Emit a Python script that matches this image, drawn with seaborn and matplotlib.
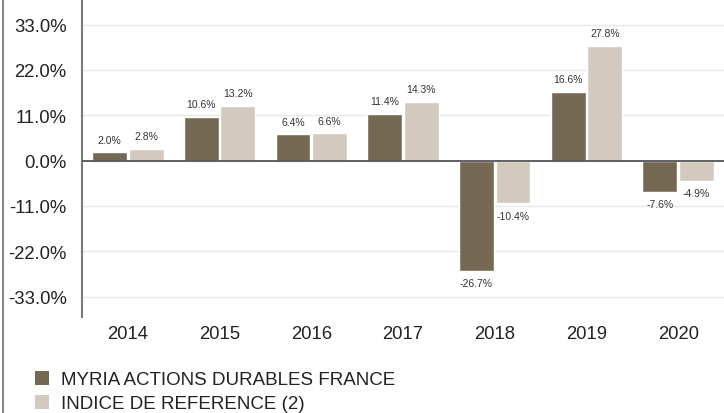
import matplotlib
matplotlib.use("Agg")
import matplotlib.pyplot as plt
import seaborn as sns
import pandas as pd
from matplotlib.patches import Patch
from matplotlib.lines import Line2D

years = ["2014", "2015", "2016", "2017", "2018", "2019", "2020"]
fund_values = [2.0, 10.6, 6.4, 11.4, -26.7, 16.6, -7.6]
index_values = [2.8, 13.2, 6.6, 14.3, -10.4, 27.8, -4.9]
series_names = ["MYRIA ACTIONS DURABLES FRANCE", "INDICE DE REFERENCE (2)"]
y_ticks = [-33, -22, -11, 0, 11, 22, 33]

dark = "#766953"
light = "#d4c9bf"

df = pd.DataFrame({
    "year": years * 2,
    "value": fund_values + index_values,
    "series": [series_names[0]] * len(years) + [series_names[1]] * len(years),
})

sns.set_theme(style="white")
plt.rcParams["font.family"] = ["Liberation Sans", "DejaVu Sans"]

W, H = 724, 414
fig = plt.figure(figsize=(W / 100, H / 100), dpi=100)
ax = fig.add_axes([82 / W, (H - 317.7) / H, (724 - 82) / W, 317.7 / H])

sns.barplot(data=df, x="year", y="value", hue="series", palette=[dark, light],
            width=0.8, gap=0.05, ax=ax, legend=False, errorbar=None, saturation=1)

ax.set_ylim(-37.9, 39.2)
ax.set_xlim(-0.5, 6.5)
ax.set_yticks(y_ticks)
ax.set_yticklabels([f"{v:.1f}%" for v in y_ticks])
ax.set_xlabel("")
ax.set_ylabel("")
ax.grid(axis="y", color="#e8e8e8", lw=1)
ax.set_axisbelow(True)
ax.axhline(0, color="#555555", lw=1.3, zorder=3)
for s in ["top", "right", "bottom"]:
    ax.spines[s].set_visible(False)
ax.spines["left"].set_color("#7a7a7a")
ax.spines["left"].set_linewidth(1.5)
ax.tick_params(axis="y", length=0, pad=11, labelsize=13.3, labelcolor="#222222")
ax.tick_params(axis="x", length=0, pad=6, labelsize=13.3, labelcolor="#222222")

for cont in ax.containers:
    ax.bar_label(cont, fmt="%.1f%%", padding=5.5, fontsize=7.5, color="#333333")

fig.add_artist(Line2D([3 / W, 3 / W], [0, 1], color="#8a8a8a", lw=1.5))

handles = [Patch(facecolor=dark, edgecolor="none"), Patch(facecolor=light, edgecolor="none")]
fig.legend(handles, series_names, loc="upper left", bbox_to_anchor=(35 / W, (H - 372) / H),
           frameon=False, fontsize=13.5, handlelength=0.75, handleheight=0.75,
           handletextpad=0.62, labelspacing=0.35, borderpad=0, borderaxespad=0,
           labelcolor="#222222")

fig.savefig("out.png", dpi=100)
